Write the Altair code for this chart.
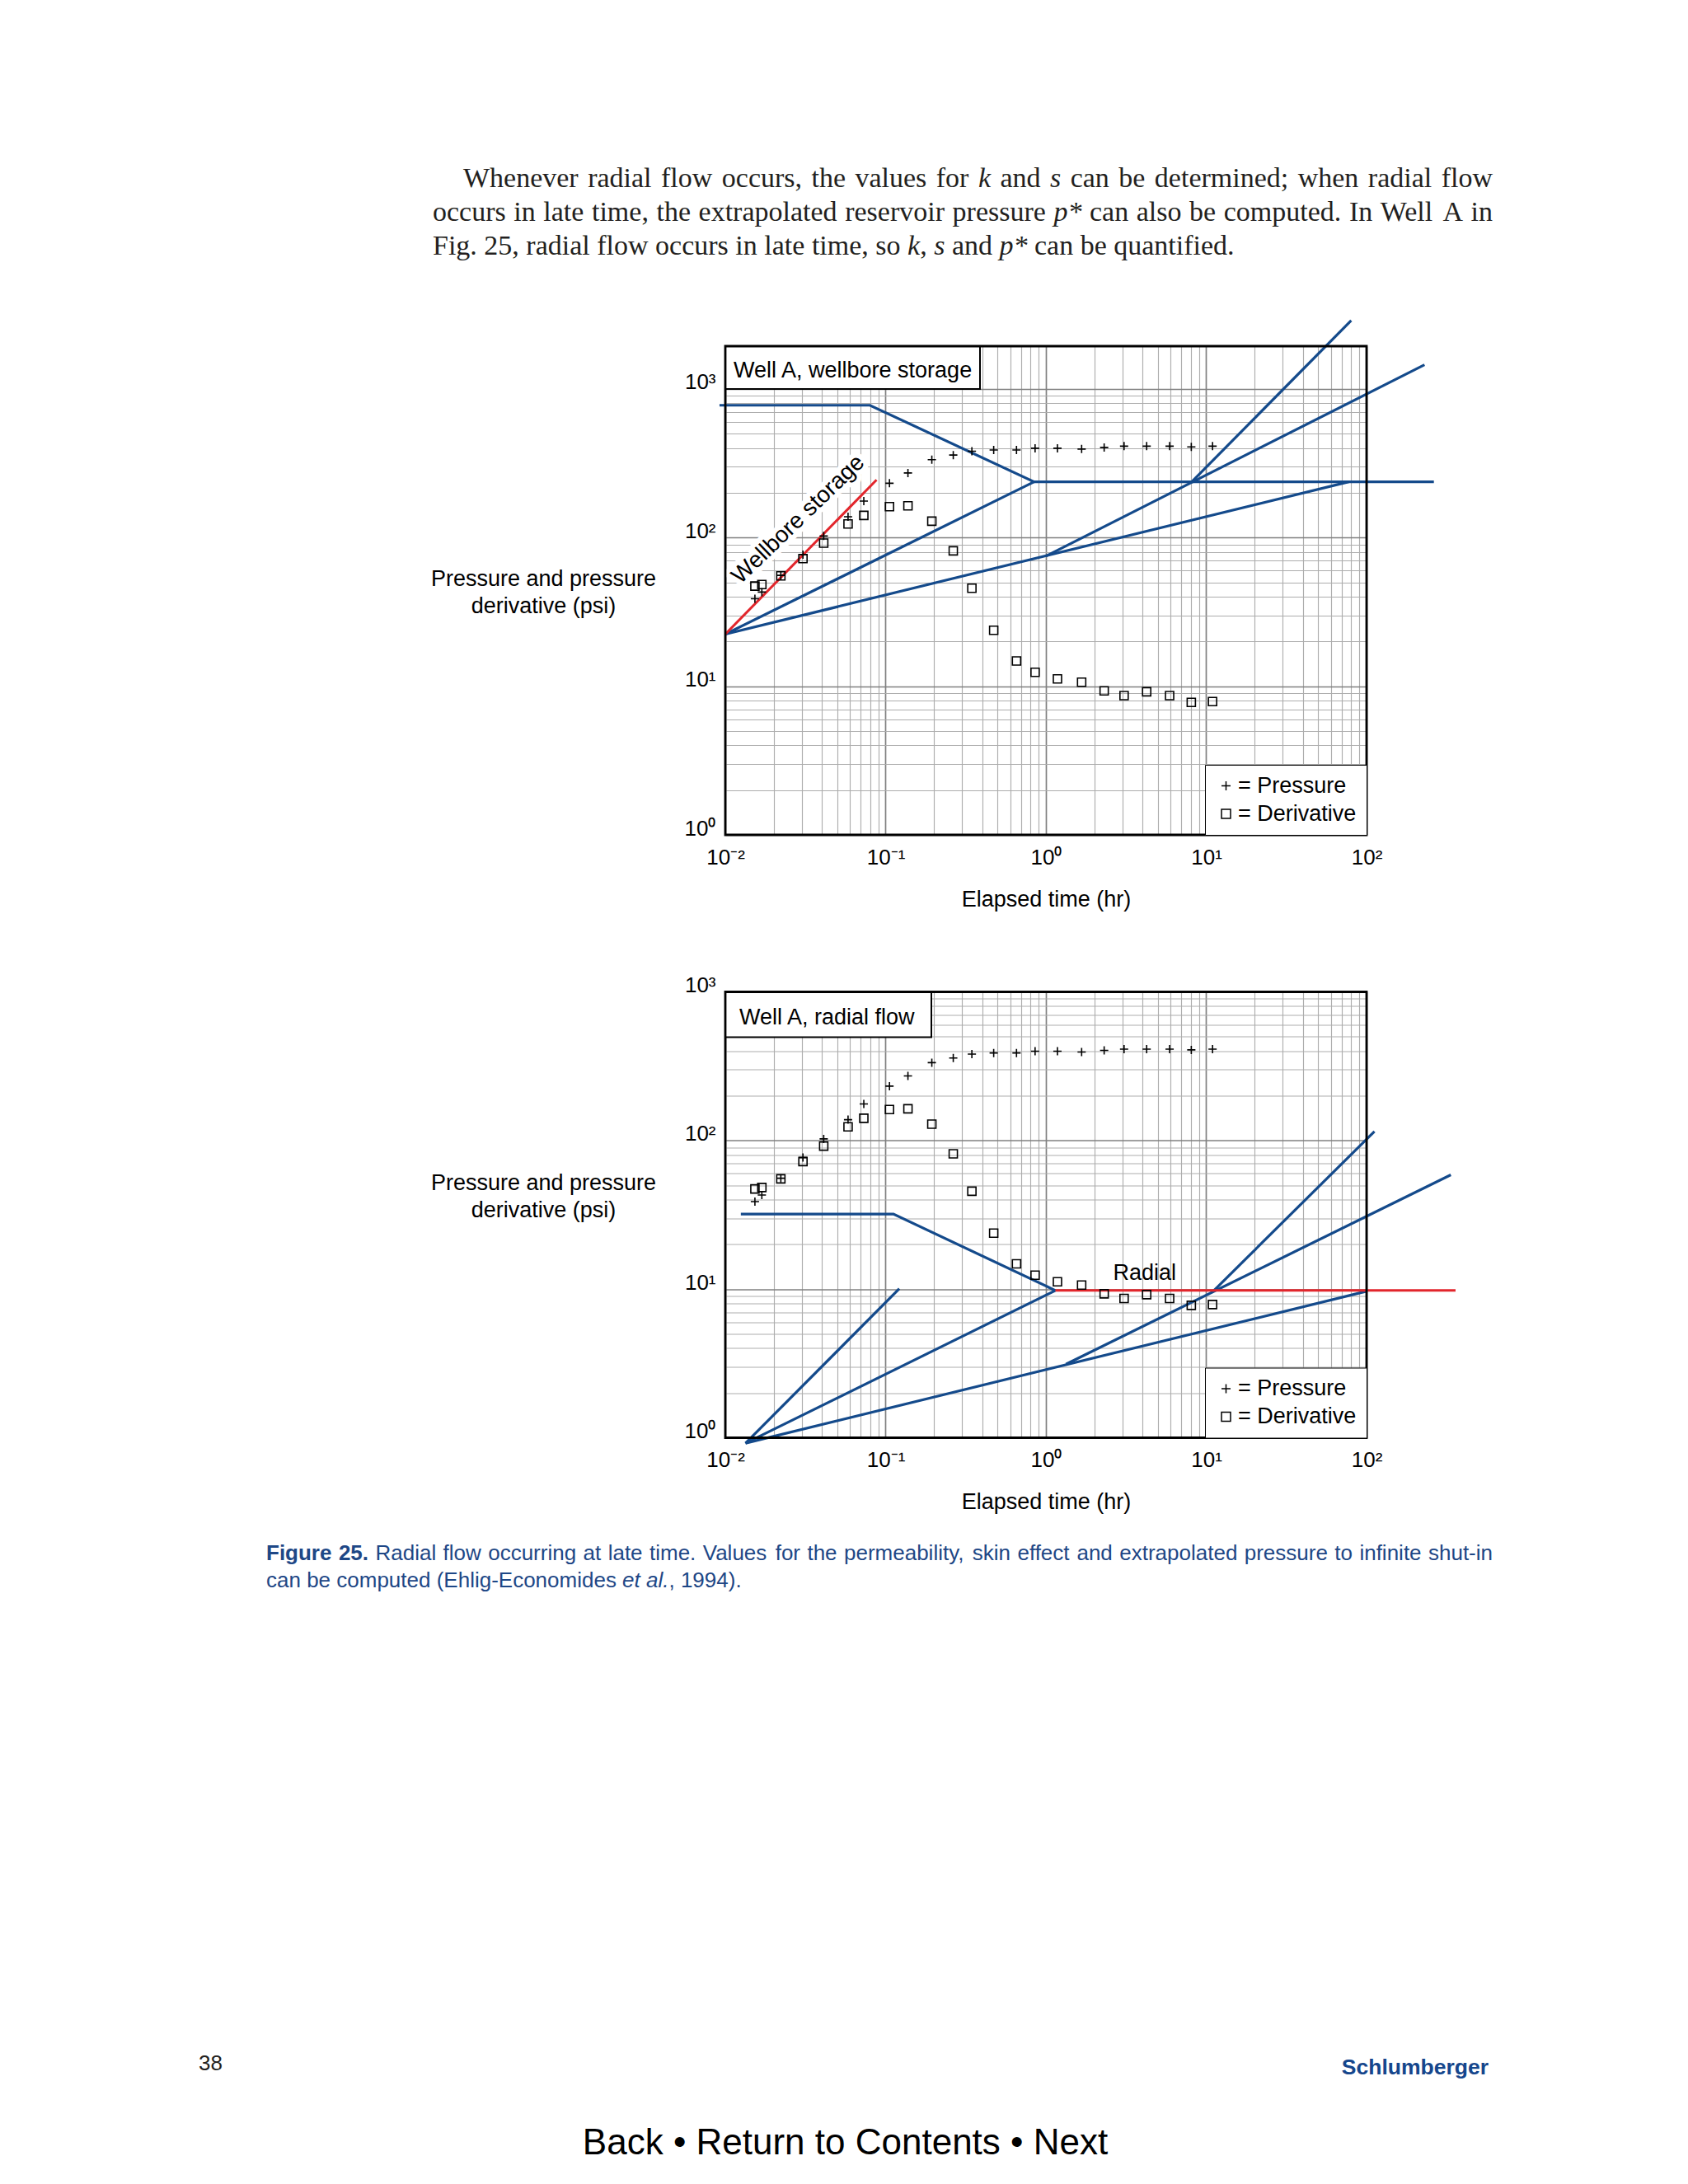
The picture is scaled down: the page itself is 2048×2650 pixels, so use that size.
import altair as alt
import pandas as pd

# ---------------- values ----------------
# elapsed time of each reading (hr), same readings on both panels
time_hr = [0.0153, 0.0169, 0.0222, 0.0305, 0.0411, 0.0583, 0.0731, 0.1057, 0.1378,
           0.1942, 0.2642, 0.3452, 0.4722, 0.6553, 0.8558, 1.180, 1.670, 2.308,
           3.072, 4.250, 5.908, 8.068, 10.95]
pressure_psi = [38.8, 43.0, 55.7, 76.7, 102.5, 138, 176, 232, 272, 334, 359, 381,
                388, 388, 399, 399, 394, 404, 412, 412, 412, 407, 412]
derivative_psi = [47.2, 48.3, 55.2, 72.2, 91.7, 123.5, 141, 161.5, 163.5, 128.9, 81.4,
                  45.6, 23.8, 14.8, 12.4, 11.2, 10.65, 9.30, 8.65, 9.18, 8.65, 7.78, 7.88]

# top panel ("wellbore storage") guide lines: time (hr) / psi
top_plateau_t = [0.0092, 0.0798, 0.844, 263.0]
top_plateau_p = [776, 776, 237.3, 237.3]
top_half_a_t = [0.01, 0.844]
top_half_a_p = [22.4, 237.3]
top_quarter_t = [0.01, 77.4]
top_quarter_p = [22.4, 237.3]
top_half_b_t = [1.0, 229.8]
top_half_b_p = [75.1, 1454]
top_unit_t = [8.12, 80.2]
top_unit_p = [237.3, 2882]
top_storage_t = [0.01, 0.0878]
top_storage_p = [22.4, 244.3]

# bottom panel ("radial flow") guide lines
bot_plateau_t = [0.0125, 0.1119, 1.146]
bot_plateau_p = [32.0, 32.0, 9.79]
bot_unit_a_t = [0.01337, 0.1217]
bot_unit_a_p = [0.919, 10.06]
bot_half_a_t = [0.01337, 1.146]
bot_half_a_p = [0.919, 9.79]
bot_quarter_t = [0.01337, 99.6]
bot_quarter_p = [0.919, 9.66]
bot_half_b_t = [1.334, 335.6]
bot_half_b_p = [3.126, 58.7]
bot_unit_b_t = [11.1, 112.0]
bot_unit_b_p = [9.73, 115.0]
bot_radial_t = [1.146, 359.0]
bot_radial_p = [9.79, 9.79]

series_names = ["Pressure", "Derivative"]
x_domain = [0.01, 100]
y_domain_top = [1, 1940]
y_domain_bot = [1, 1000]
superscripts = {-2: "\u207b\u00b2", -1: "\u207b\u00b9", 0: "\u2070", 1: "\u00b9", 2: "\u00b2", 3: "\u00b3"}

body_lines = [
    [("Whenever radial flow occurs, the values for ", "tr"), ("k", "ti"), (" and ", "tr"),
     ("s", "ti"), (" can be determined; when radial flow", "tr")],
    [("occurs in late time, the extrapolated reservoir pressure ", "tr"), ("p*", "ti"),
     (" can also be computed. In Well A in", "tr")],
    [("Fig. 25, radial flow occurs in late time, so ", "tr"), ("k", "ti"), (", ", "tr"),
     ("s", "ti"), (" and ", "tr"), ("p*", "ti"), (" can be quantified.", "tr")],
]
caption_lines = [
    [("Figure 25.", "hb"), (" Radial flow occurring at late time. Values for the permeability, "
                            "skin effect and extrapolated pressure to infinite shut-in", "hr")],
    [("can be computed (Ehlig-Economides ", "hr"), ("et al.", "hi"), (", 1994).", "hr")],
]

# ---------------- styling ----------------
W = 778
H_TOP = 593
H_BOT = 541
SANS = "Liberation Sans, Arial, Helvetica, sans-serif"
SERIF = "Liberation Serif, Times New Roman, serif"
BLUE = "#144a8b"
RED = "#e2262c"
CAP_BLUE = "#1e4786"
PLUS = "M-1,0L1,0M0,-1L0,1"

# font advance widths (per 1000 em) for laying words out on a line
TR = {' ': 250, '*': 500, ',': 250, '.': 250, ';': 278, '2': 500, '5': 500, 'A': 722, 'F': 556,
      'I': 333, 'W': 944, 'a': 444, 'b': 500, 'c': 444, 'd': 500, 'e': 444, 'f': 333, 'g': 500,
      'h': 500, 'i': 278, 'k': 500, 'l': 278, 'm': 778, 'n': 500, 'o': 500, 'p': 500, 'q': 500,
      'r': 333, 's': 389, 't': 278, 'u': 500, 'v': 500, 'w': 722, 'x': 500, 'y': 500}
TI = dict(TR, k=444, s=389, p=500)
HR = {' ': 278, '(': 333, ')': 333, ',': 278, '-': 333, '.': 278, 'E': 667, 'F': 611, 'R': 722,
      'V': 667, 'a': 556, 'b': 556, 'c': 500, 'd': 556, 'e': 556, 'f': 278, 'g': 556, 'h': 556,
      'i': 222, 'k': 500, 'l': 222, 'm': 833, 'n': 556, 'o': 556, 'p': 556, 'r': 333, 's': 500,
      't': 278, 'u': 556, 'v': 500, 'w': 722, 'x': 500, 'y': 500}
for d in "0123456789":
    HR[d] = 556
HB = dict(HR, F=611, i=278, g=611, u=611, r=389)
WIDTHS = {"tr": TR, "ti": TI, "hr": HR, "hb": HB, "hi": HR}


def layout_line(segments, x0, y, size, right=None):
    pieces = []
    for text, style in segments:
        buf = ""
        for ch in text:
            if ch == " ":
                if buf:
                    pieces.append((buf, style))
                    buf = ""
                pieces.append((" ", style))
            else:
                buf += ch
        if buf:
            pieces.append((buf, style))

    def wid(s, st):
        return sum(WIDTHS[st].get(c, 500) for c in s) / 1000.0 * size

    natural = sum(wid(t, st) for t, st in pieces)
    gaps = sum(1 for t, _ in pieces if t == " ")
    extra = (right - x0 - natural) / gaps if (right is not None and gaps) else 0.0
    rows, x = [], x0
    for t, st in pieces:
        if t == " ":
            x += wid(t, st) + extra
        else:
            rows.append({"x": x, "y": y, "text": t, "style": st})
            x += wid(t, st)
    return rows


def decade_values(lo, hi):
    vals = []
    for e in range(lo, hi):
        for m in range(1, 10):
            vals.append(float(f"{m}e{e}"))
    vals.append(float(f"1e{hi}"))
    return vals


E = "round(log(datum.value)/LN10)"
MAJOR = f"abs(log(datum.value)/LN10 - {E}) < 0.001"
lab = "''"
for k in sorted(superscripts, reverse=True):
    lab = f"({E} == {k} ? '10{superscripts[k]}' : {lab})"
LABEL_EXPR = f"{MAJOR} ? {lab} : ''"

AXIS_COMMON = dict(
    grid=True,
    gridColor={"condition": {"test": MAJOR, "value": "#808080"}, "value": "#adadad"},
    gridWidth={"condition": {"test": MAJOR, "value": 1.7}, "value": 1.15},
    ticks=False, tickSize=0, domain=False,
    labelFont=SANS, labelFontSize=26, labelColor="black",
    labelOverlap=False, labelFlush=False, labelExpr=LABEL_EXPR,
    titleFont=SANS, titleFontSize=27, titleFontWeight="normal", titleColor="black",
)

n = len(time_hr)
points_df = pd.DataFrame({
    "t": time_hr + time_hr,
    "p": pressure_psi + derivative_psi,
    "series": [series_names[0]] * n + [series_names[1]] * n,
})


def lines_df(lines):
    rows = []
    for name, ts, ps in lines:
        for i, (t, p) in enumerate(zip(ts, ps)):
            rows.append({"seg": name, "i": i, "t": t, "p": p})
    return pd.DataFrame(rows)


one = pd.DataFrame({"a": [0]})


def text_layers(rows, font, size, color, italic_styles, bold_styles):
    df = pd.DataFrame(rows)
    layers = []
    for st in df["style"].unique():
        sub = df[df["style"] == st]
        kw = dict(align="left", baseline="alphabetic", font=font, fontSize=size, color=color)
        if st in italic_styles:
            kw["fontStyle"] = "italic"
        if st in bold_styles:
            kw["fontWeight"] = "bold"
        layers.append(alt.Chart(sub).mark_text(**kw).encode(
            x=alt.X("x:Q", scale=None, axis=None),
            y=alt.Y("y:Q", scale=None, axis=None),
            text="text:N"))
    return layers


def make_panel(H, ydom, yticks, blue, red, box_w, box_h, box_label, box_tx, box_ty,
               ytitle_y, extra_before, extra_after):
    xs = alt.Scale(type="log", domain=x_domain, nice=False)
    ys = alt.Scale(type="log", domain=ydom, nice=False)
    x_axis = alt.Axis(values=decade_values(-2, 2), title="Elapsed time (hr)",
                      titleX=W / 2, titleY=86, titleAlign="center", titleBaseline="alphabetic",
                      labelBaseline="top", labelPadding=14, **AXIS_COMMON)
    y_axis = alt.Axis(values=yticks, title=["Pressure and pressure", "derivative (psi)"],
                      titleX=-221, titleY=ytitle_y, titleAngle=0, titleAlign="center",
                      titleBaseline="alphabetic", titleLineHeight=33,
                      labelBaseline="alphabetic", labelPadding=12, **AXIS_COMMON)
    pts = alt.Chart(points_df).mark_point(
        filled=False, color="black", size=100, strokeWidth=1.6, opacity=1
    ).encode(
        x=alt.X("t:Q", scale=xs, axis=x_axis),
        y=alt.Y("p:Q", scale=ys, axis=y_axis),
        shape=alt.Shape("series:N", scale=alt.Scale(domain=series_names, range=[PLUS, "square"]),
                        legend=alt.Legend(title=None, orient="bottom-right", offset=0,
                                          padding=12, fillColor="white", strokeColor="black",
                                          labelFont=SANS, labelFontSize=27, labelColor="black",
                                          labelOffset=1, labelExpr="'= ' + datum.label",
                                          symbolSize=120, symbolStrokeWidth=1.5,
                                          symbolStrokeColor="black", symbolFillColor="transparent",
                                          symbolOpacity=1, rowPadding=6, labelLimit=400)),
    )
    blue_l = alt.Chart(lines_df(blue)).mark_line(color=BLUE, strokeWidth=3.2).encode(
        x=alt.X("t:Q", scale=xs), y=alt.Y("p:Q", scale=ys), detail="seg:N", order="i:O")
    red_l = alt.Chart(lines_df(red)).mark_line(color=RED, strokeWidth=3.0).encode(
        x=alt.X("t:Q", scale=xs), y=alt.Y("p:Q", scale=ys), detail="seg:N", order="i:O")
    box = alt.Chart(one).mark_rect(fill="white", stroke="black", strokeWidth=2).encode(
        x=alt.value(0), x2=alt.value(box_w), y=alt.value(0), y2=alt.value(box_h))
    box_text = alt.Chart(one).mark_text(
        text=box_label, align="left", baseline="alphabetic", font=SANS, fontSize=27, color="black"
    ).encode(x=alt.value(box_tx), y=alt.value(box_ty))
    border = alt.Chart(one).mark_rect(fillOpacity=0, stroke="black", strokeWidth=2.8).encode(
        x=alt.value(0), x2=alt.value(W), y=alt.value(0), y2=alt.value(H))
    layers = extra_before(xs, ys) + [blue_l, red_l, pts, box, box_text, border] + extra_after(xs, ys)
    return alt.layer(*layers).properties(width=W, height=H)


# ---------- top panel extras ----------
def top_before(xs, ys):
    lbl = pd.DataFrame({"t": [0.0286], "p": [132.1]})
    kw = dict(text="Wellbore storage", angle=316, font=SANS, fontSize=28,
              align="center", baseline="middle")
    halo = alt.Chart(lbl).mark_text(color="white", stroke="white", strokeWidth=12,
                                    strokeJoin="round", **kw).encode(
        x=alt.X("t:Q", scale=xs), y=alt.Y("p:Q", scale=ys))
    anchor = alt.Chart(one).mark_rect(color="white").encode(
        x=alt.value(-872), x2=alt.value(-871), y=alt.value(-412), y2=alt.value(-411))
    return [anchor, halo]


def top_after(xs, ys):
    lbl = pd.DataFrame({"t": [0.0286], "p": [132.1]})
    txt = alt.Chart(lbl).mark_text(text="Wellbore storage", angle=316, font=SANS, fontSize=28,
                                   align="center", baseline="middle", color="black").encode(
        x=alt.X("t:Q", scale=xs), y=alt.Y("p:Q", scale=ys))
    rows = []
    rows += layout_line(body_lines[0], -318, -193, 34, right=931)
    rows += layout_line(body_lines[1], -355, -152, 34, right=931)
    rows += layout_line(body_lines[2], -355, -111, 34)
    return [txt] + text_layers(rows, SERIF, 34, "#231f20", {"ti"}, set())


# ---------- bottom panel extras ----------
def bot_before(xs, ys):
    return []


def bot_after(xs, ys):
    lbl = pd.DataFrame({"t": [4.13], "p": [11.55]})
    radial = alt.Chart(lbl).mark_text(text="Radial", font=SANS, fontSize=27, align="center",
                                      baseline="alphabetic", color="black").encode(
        x=alt.X("t:Q", scale=xs), y=alt.Y("p:Q", scale=ys))
    rows = []
    rows += layout_line(caption_lines[0], -557, 689.8, 26, right=931)
    rows += layout_line(caption_lines[1], -557, 722.2, 26)
    cap = text_layers(rows, SANS, 26, CAP_BLUE, {"hi"}, {"hb"})
    page = alt.Chart(one).mark_text(text="38", font=SANS, fontSize=26, align="left",
                                    baseline="alphabetic", color="#231f20").encode(
        x=alt.value(-639), y=alt.value(1308))
    logo = alt.Chart(one).mark_text(text="Schlumberger", font=SANS,
                                    fontSize=26.5, fontWeight="bold", align="right",
                                    baseline="alphabetic", color="#15468c").encode(
        x=alt.value(926), y=alt.value(1313))
    nav = alt.Chart(one).mark_text(text="Back \u2022 Return to Contents \u2022 Next", font=SANS,
                                   fontSize=44, align="center", baseline="alphabetic",
                                   color="black").encode(
        x=alt.value(145.5), y=alt.value(1410))
    return [radial] + cap + [page, logo, nav]


top = make_panel(
    H_TOP, y_domain_top, decade_values(0, 3),
    [("plateau", top_plateau_t, top_plateau_p), ("half_a", top_half_a_t, top_half_a_p),
     ("quarter", top_quarter_t, top_quarter_p), ("half_b", top_half_b_t, top_half_b_p),
     ("unit", top_unit_t, top_unit_p)],
    [("storage", top_storage_t, top_storage_p)],
    309, 52, "Well A, wellbore storage", 10, 38, 290.7, top_before, top_after)

bottom = make_panel(
    H_BOT, y_domain_bot, decade_values(0, 3),
    [("plateau", bot_plateau_t, bot_plateau_p), ("unit_a", bot_unit_a_t, bot_unit_a_p),
     ("half_a", bot_half_a_t, bot_half_a_p), ("quarter", bot_quarter_t, bot_quarter_p),
     ("half_b", bot_half_b_t, bot_half_b_p), ("unit_b", bot_unit_b_t, bot_unit_b_p)],
    [("radial", bot_radial_t, bot_radial_p)],
    250, 55, "Well A, radial flow", 17, 39, 240, bot_before, bot_after)

chart = alt.vconcat(top, bottom, spacing=190.5, bounds="flush").resolve_legend(
    shape="independent").properties(padding=0, background="white").configure_view(strokeWidth=0)

chart.save("out.html", embed_options={"renderer": "svg", "actions": False})
